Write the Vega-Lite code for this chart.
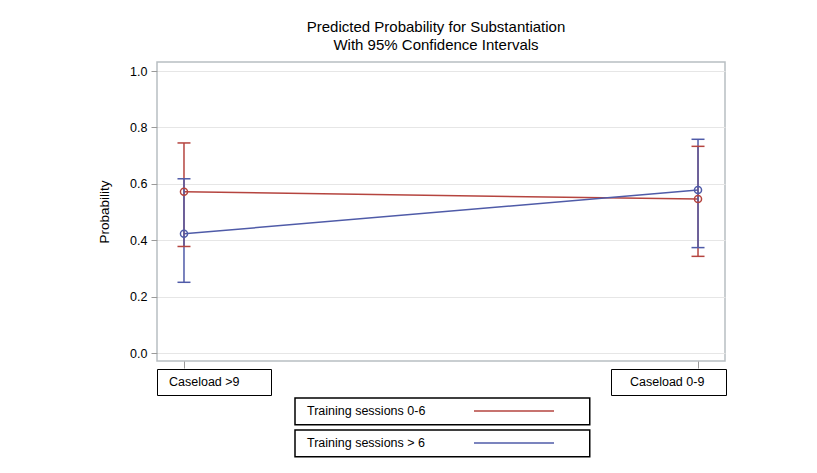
{
  "$schema": "https://vega.github.io/schema/vega-lite/v6.json",
  "autosize": {"type": "none"},
  "width": 568,
  "height": 299,
  "padding": {"left": 157, "top": 62, "right": 92, "bottom": 112},
  "background": "white",
  "title": {
    "text": ["Predicted Probability for Substantiation", "With 95% Confidence Intervals"],
    "font": "Liberation Sans",
    "fontSize": 15,
    "fontWeight": "normal",
    "lineHeight": 18,
    "color": "black",
    "anchor": "middle",
    "dx": -5,
    "offset": 9
  },
  "data": {
    "values": [
      {"caseload": "Caseload >9", "training": "Training sessions 0-6", "p": 0.572, "lo": 0.378, "hi": 0.745},
      {"caseload": "Caseload 0-9", "training": "Training sessions 0-6", "p": 0.546, "lo": 0.343, "hi": 0.733},
      {"caseload": "Caseload >9", "training": "Training sessions > 6", "p": 0.423, "lo": 0.251, "hi": 0.618},
      {"caseload": "Caseload 0-9", "training": "Training sessions > 6", "p": 0.578, "lo": 0.374, "hi": 0.758}
    ]
  },
  "encoding": {
    "x": {
      "field": "caseload",
      "type": "nominal",
      "sort": ["Caseload >9", "Caseload 0-9"],
      "scale": {"type": "point", "padding": 0.0525},
      "axis": {
        "title": null,
        "domain": false,
        "grid": false,
        "tickColor": "#9a9a9a",
        "tickSize": 7,
        "labels": false
      }
    },
    "color": {
      "field": "training",
      "type": "nominal",
      "scale": {"domain": ["Training sessions 0-6", "Training sessions > 6"], "range": ["#b5443f", "#4f5ba8"]},
      "legend": {
        "title": null,
        "orient": "none",
        "legendX": 138,
        "legendY": 336,
        "padding": 0,
        "direction": "vertical",
        "symbolType": "stroke",
        "symbolSize": 6400,
        "symbolStrokeWidth": 1.5,
        "symbolOffset": 178,
        "labelOffset": -248,
        "clipHeight": 26,
        "labelFont": "Liberation Sans",
        "labelFontSize": 12.5,
        "labelColor": "black",
        "rowPadding": 4,
        "labelLimit": 300,
        "encode": {
          "entries": {"update": {"stroke": {"value": "black"}, "strokeWidth": {"value": 1.5}, "width": {"value": 294}, "height": {"value": 26}}}
        }
      }
    }
  },
  "layer": [
    {
      "mark": {"type": "line", "strokeWidth": 1.5},
      "encoding": {
        "y": {
          "field": "p",
          "type": "quantitative",
          "scale": {"domain": [-0.028, 1.032], "nice": false, "zero": false},
          "axis": {
            "title": "Probability",
            "titleFont": "Liberation Sans",
            "titleFontSize": 13.5,
            "titleFontWeight": "normal",
            "titleColor": "black",
            "titlePadding": 18,
            "values": [0, 0.2, 0.4, 0.6, 0.8, 1.0],
            "format": ".1f",
            "domain": false,
            "grid": true,
            "gridColor": "#e6e6e6",
            "gridWidth": 1,
            "tickColor": "#9a9a9a",
            "tickSize": 6,
            "labelFont": "Liberation Sans",
            "labelFontSize": 12.5,
            "labelColor": "black",
            "labelPadding": 4
          }
        }
      }
    },
    {
      "mark": {"type": "rule", "strokeWidth": 1.5},
      "encoding": {
        "y": {"field": "lo", "type": "quantitative"},
        "y2": {"field": "hi"}
      }
    },
    {
      "mark": {"type": "tick", "size": 13, "thickness": 1.5, "orient": "horizontal", "opacity": 1},
      "encoding": {"y": {"field": "lo", "type": "quantitative"}}
    },
    {
      "mark": {"type": "tick", "size": 13, "thickness": 1.5, "orient": "horizontal", "opacity": 1},
      "encoding": {"y": {"field": "hi", "type": "quantitative"}}
    },
    {
      "mark": {"type": "point", "filled": false, "size": 50, "strokeWidth": 1.5, "opacity": 1},
      "encoding": {
        "y": {"field": "p", "type": "quantitative"},
        "shape": {
          "field": "caseload",
          "type": "nominal",
          "scale": {"domain": ["Caseload >9", "Caseload 0-9"], "range": ["circle", "circle"]},
          "legend": {
            "title": null,
            "values": ["Caseload >9"],
            "orient": "none",
            "legendX": 0,
            "legendY": 307,
            "padding": 0,
            "strokeColor": "black",
            "direction": "vertical",
            "symbolType": "stroke",
            "symbolSize": 12996,
            "symbolStrokeWidth": 1,
            "symbolOpacity": 0,
            "symbolStrokeColor": "white",
            "symbolOffset": 0,
            "labelOffset": -103,
            "clipHeight": 26,
            "labelFont": "Liberation Sans",
            "labelFontSize": 12.5,
            "labelColor": "black",
            "labelLimit": 300,
            "labelExpr": "datum.label + '\u00a0\u00a0\u00a0\u00a0\u00a0\u00a0\u00a0\u00a0\u00a0\u200b'",
            "encode": {"legend": {"update": {"strokeWidth": {"value": 1.5}}}}
          }
        },
        "strokeWidth": {
          "field": "caseload",
          "type": "nominal",
          "scale": {"domain": ["Caseload 0-9", "Caseload >9"], "range": [1.5, 1.5]},
          "legend": {
            "title": null,
            "values": ["Caseload 0-9"],
            "orient": "none",
            "legendX": 454,
            "legendY": 307,
            "padding": 0,
            "strokeColor": "black",
            "direction": "vertical",
            "symbolType": "stroke",
            "symbolSize": 13225,
            "symbolOpacity": 0,
            "symbolStrokeColor": "white",
            "symbolOffset": 0,
            "labelOffset": -98,
            "clipHeight": 26,
            "labelFont": "Liberation Sans",
            "labelFontSize": 12.5,
            "labelColor": "black",
            "labelLimit": 300,
            "labelExpr": "datum.label + '\u00a0\u00a0\u00a0\u00a0\u00a0\u00a0\u200b'",
            "encode": {"legend": {"update": {"strokeWidth": {"value": 1.5}}}}
          }
        }
      }
    }
  ],
  "config": {
    "view": {"stroke": "#b8bec2", "strokeWidth": 1.5},
    "axis": {"titleFont": "Liberation Sans"}
  }
}
